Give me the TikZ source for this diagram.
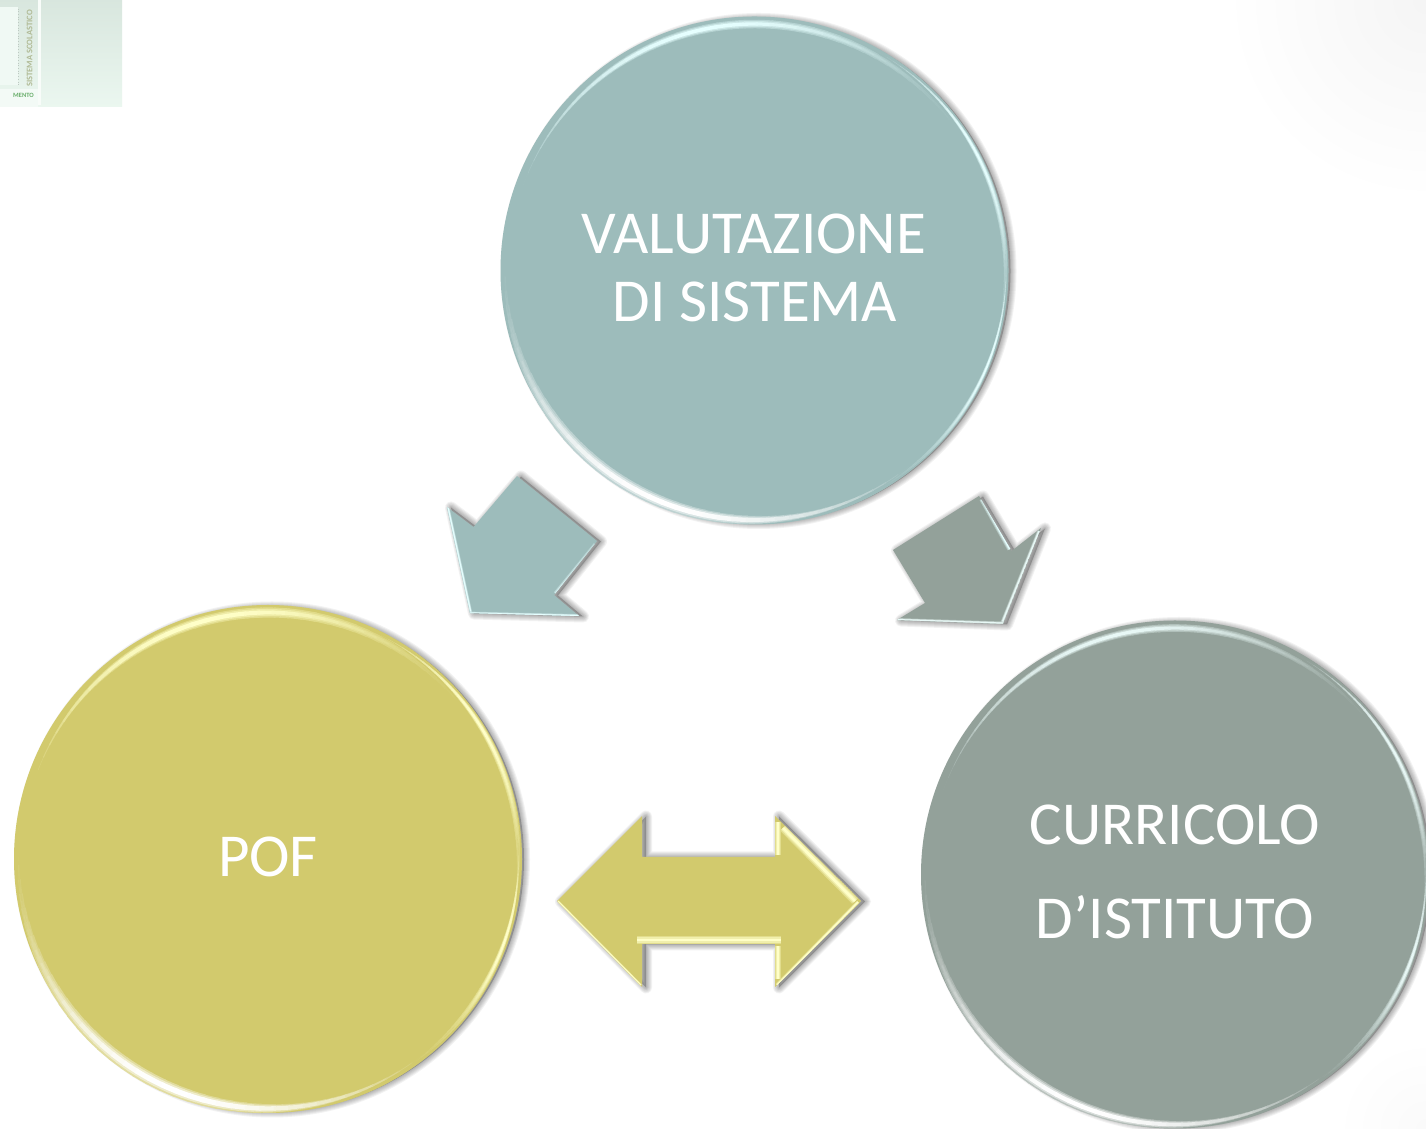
\documentclass[tikz,border=0pt]{standalone}
\usepackage{fontspec}
\setmainfont{Carlito}
\usetikzlibrary{calc,fadings,shadings}
\definecolor{tealc}{HTML}{9DBCBB}
\definecolor{yellc}{HTML}{D2CA6D}
\definecolor{grayc}{HTML}{93A19A}
\definecolor{teall}{HTML}{E6FFFF}
\definecolor{yelll}{HTML}{FFFFC8}
\definecolor{grayl}{HTML}{E8F8F6}
\definecolor{logoc}{HTML}{E6F5EC}
\tikzset{
  disc/.style={circle,minimum size=508pt,inner sep=0pt,draw=none},
  bigtext/.style={text=white,anchor=base,inner sep=0pt,font=\fontsize{61}{68}\selectfont},
  shadefill/.style={black,opacity=0.22,line join=round},
  shadestroke/.style={black,opacity=0.05,line join=round},
  bevel/.style={line cap=butt,line join=miter}
}
% tapered crescent along a circle: node, radius, from, to, colour, base, max width
\newcommand{\rimarc}[7]{%
  \foreach \k in {0,...,35}{%
    \pgfmathsetmacro{\aa}{#3+(#4-#3)*\k/36}%
    \pgfmathsetmacro{\ab}{#3+(#4-#3)*(\k+1.15)/36}%
    \pgfmathsetmacro{\sn}{sin(180*(\k+.5)/36)}%
    \pgfmathsetmacro{\lw}{#7*\sn}%
    \pgfmathsetmacro{\mx}{100*\sn}%
    \draw[#5!\mx!#6,line width=\lw pt] (#1.center) ++(\aa:#2) arc[start angle=\aa,end angle=\ab,radius=#2];
  }%
}
% soft crescent: three passes from wide and faint to narrow and bright
\newcommand{\softrim}[7]{%
  \rimarc{#1}{#2}{#3}{#4}{#5!35!#6}{#6}{#7*1.7}%
  \rimarc{#1}{#2}{#3+5}{#4-5}{#5!65!#6}{#6}{#7*1.2}%
  \rimarc{#1}{#2}{#3+10}{#4-10}{#5}{#6}{#7*.7}%
}
% soft straight bevel: start, end, colour, base, width
\newcommand{\softedge}[5]{%
  \draw[bevel,#3!35!#4,line width=#5*1.6 pt] #1 -- #2;
  \draw[bevel,#3!70!#4,line width=#5*1.05 pt] #1 -- #2;
  \draw[bevel,#3,line width=#5*.55 pt] #1 -- #2;
}
\newcommand{\softshadow}[1]{%
  \begin{scope}[shift={(4pt,-0.5pt)}]
  \fill[shadefill] #1;
  \foreach \w in {12,10,8,6,4,2}{%
    \draw[shadestroke,line width=\w pt] #1;
  }%
  \end{scope}
}
\newcommand{\discshadow}[3]{%
  \fill[shadefill] (#1,#2) circle (#3);
  \foreach \w in {12,10,8,6,4,2}{%
    \draw[shadestroke,line width=\w pt] (#1,#2) circle (#3);
  }%
}
\begin{document}
\begin{tikzpicture}[x=1pt,y=1pt]
\useasboundingbox (0,0) rectangle (1426,1129);
\fill[white] (0,0) rectangle (1426,1129);
% faint corner tones of the slide
\begin{scope}
\clip (0,0) rectangle (1426,1129);
\shade[inner color=black!4,outer color=white] (1426,1129) circle (200);
\shade[inner color=black!2,outer color=white] (1426,0) circle (90);
\end{scope}
% logo fragment
\begin{scope}
\clip (0,1022) rectangle (122,1129);
\shade[top color=logoc!94!black,bottom color=logoc!80!white] (0,1022) rectangle (122,1129);
\fill[logoc!60!white] (0,1044) rectangle (18,1122);
\fill[white!70!logoc] (38,1024) rectangle (41,1129);
\fill[white!50!logoc] (0,1022) rectangle (38,1040);
\draw[black!18!logoc,dotted,line width=.7pt] (18,1044) -- (18,1122);
\node[anchor=west,rotate=90,inner sep=0pt,text=black!28!logoc!88!yellow,font=\fontsize{8.5}{9}\selectfont\bfseries] (logoside) at (29.5,1042) {SISTEMA SCOLASTICO};
\node[anchor=east,inner sep=0pt,text=green!45!black!55!logoc,font=\fontsize{6.5}{7}\selectfont\bfseries] (logobase) at (34,1034) {MENTO};
\end{scope}
% shadows
\discshadow{758.5}{858}{252}
\discshadow{272}{269.5}{252}
\discshadow{1179}{254}{252}
\def\arrowL{(447,622) -- (473.5,602) -- (517,653) -- (597,588) -- (554,534) -- (579,513) -- (470,516) -- cycle}
\def\arrowR{(979,633) -- (1011.5,578) -- (1041,601) -- (1003,505) -- (897,509) -- (925,526) -- (893,579) -- cycle}
\def\arrowD{(557,228) -- (642,313) -- (642,272) -- (775,272) -- (775,313) -- (861,228) -- (775,142) -- (775,185) -- (642,185) -- (642,142) -- cycle}
\softshadow{\arrowL}
\softshadow{\arrowR}
\softshadow{\arrowD}
% discs
\node[disc,fill=tealc] (valut) at (754.5,858.5) {};
\node[disc,fill=yellc] (pof) at (268,270) {};
\node[disc,fill=grayc] (curr) at (1175,254.5) {};
% rims, valutazione
\softrim{valut}{246.5}{150}{35}{teall}{tealc}{5}
\softrim{valut}{249.5}{178}{298}{white}{tealc}{7}
\softrim{valut}{251}{50}{-15}{teall}{tealc}{3}
\softrim{valut}{251.5}{-5}{-60}{teall}{tealc}{2.2}
% rims, pof
\softrim{pof}{246.5}{152}{38}{yelll}{yellc}{6}
\softrim{pof}{249.5}{178}{298}{white}{yellc}{7.5}
\softrim{pof}{250.5}{55}{-12}{yelll}{yellc}{3.5}
\softrim{pof}{250.5}{-5}{-55}{yelll}{yellc}{3}
% rims, curricolo
\softrim{curr}{246.5}{150}{38}{grayl}{grayc}{4.5}
\softrim{curr}{250}{178}{298}{white}{grayc}{6}
\softrim{curr}{251}{50}{-12}{grayl}{grayc}{3}
\softrim{curr}{251}{-5}{-55}{grayl}{grayc}{3}
% block arrows
\fill[tealc] \arrowL;
\fill[grayc] \arrowR;
\fill[yellc] \arrowD;
\begin{scope}
\clip \arrowL;
\softedge{(596,584)}{(556,535)}{teall}{tealc}{3.5}
\softedge{(448,622)}{(471,516)}{teall}{tealc}{1.7}
\softedge{(470,516)}{(579,513.5)}{teall}{tealc}{1.7}
\end{scope}
\begin{scope}
\clip \arrowR;
\softedge{(982,630)}{(1010,580)}{teall}{grayc}{3.5}
\softedge{(1039,598)}{(1002,506)}{grayl}{grayc}{2.2}
\softedge{(1003,506)}{(897,509.5)}{grayl}{grayc}{1.8}
\end{scope}
\begin{scope}
\clip \arrowD;
\softedge{(637,189)}{(781,189)}{yelll}{yellc}{5}
\softedge{(783,301)}{(855,228)}{yelll}{yellc}{5}
\softedge{(778,307)}{(778,274)}{yelll}{yellc}{3.5}
\softedge{(778,183)}{(778,150)}{yelll}{yellc}{3.5}
\softedge{(777,144)}{(858,227)}{yelll}{yellc}{2.2}
\softedge{(558,228)}{(641,144)}{yelll}{yellc}{1.2}
\end{scope}
% labels
\node[bigtext] (t1) at (754,875) {VALUTAZIONE};
\node[bigtext] (t2) at (755,807) {DI SISTEMA};
\node[bigtext] (t3) at (268,252) {POF};
\node[bigtext] (t4) at (1175,284) {CURRICOLO};
\node[bigtext] (t5) at (1175,190) {D’ISTITUTO};
\end{tikzpicture}
\end{document}
